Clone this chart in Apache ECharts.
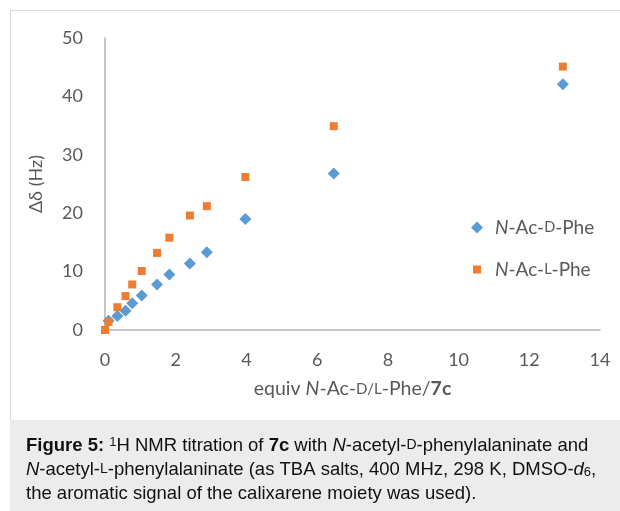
<!DOCTYPE html>
<html>
<head>
<meta charset="utf-8">
<script src="https://cdn.jsdelivr.net/npm/echarts@6/dist/echarts.min.js"></script>
<style>
  html, body { margin: 0; padding: 0; background: #fff; }
  #chart { width: 620px; height: 511px; }
</style>
</head>
<body>
<div id="chart"></div>
<script>
// equivalents of guest added, shared by both titrations
var equiv = [0, 0.1, 0.35, 0.58, 0.77, 1.04, 1.47, 1.82, 2.4, 2.88, 3.97, 6.47, 12.95];
// delta delta (Hz) for each guest
var dPhe = [-0.3, 1.6, 2.4, 3.3, 4.6, 5.9, 7.8, 9.5, 11.4, 13.3, 19.0, 26.8, 42.1];
var lPhe = [0, 1.4, 3.9, 5.8, 7.8, 10.1, 13.2, 15.8, 19.6, 21.2, 26.2, 34.9, 45.1];
var seriesNames = ['N-Ac-D-Phe', 'N-Ac-L-Phe'];

var font = 'Lato';
var grey = '#595959';

function pairs(xs, ys) {
  var out = [];
  for (var i = 0; i < xs.length; i++) out.push([xs[i], ys[i]]);
  return out;
}

// rich styles: italic N, small caps D / L, bold 7c
var richChart = {
  t: { fontFamily: font, fontSize: 19, color: grey },
  i: { fontFamily: font, fontSize: 19, color: grey, fontStyle: 'italic' },
  sc: { fontFamily: font, fontSize: 14.5, color: grey },
  b: { fontFamily: font, fontSize: 19, color: grey, fontWeight: 'bold' }
};
var richTitle = {
  t: { fontFamily: font, fontSize: 19.5, color: grey },
  i: { fontFamily: font, fontSize: 19.5, color: grey, fontStyle: 'italic' },
  sc: { fontFamily: font, fontSize: 15, color: grey },
  b: { fontFamily: font, fontSize: 19.5, color: grey, fontWeight: 'bold' }
};

var capFont = 'Liberation Sans';
var capSize = 18.5;
var richCap = {
  b: { fontFamily: capFont, fontSize: capSize, fontWeight: 'bold', color: '#111' },
  i: { fontFamily: capFont, fontSize: capSize, fontStyle: 'italic', color: '#111' },
  sc: { fontFamily: capFont, fontSize: 14, color: '#111' },
  sup: { fontFamily: capFont, fontSize: 13, color: '#111', verticalAlign: 'top' },
  sub: { fontFamily: capFont, fontSize: 13, color: '#111', verticalAlign: 'bottom', padding: [5, 0, 0, 0] }
};

function capLine(y, txt) {
  return {
    type: 'text', left: 26, top: y, z: 10,
    style: {
      text: txt, rich: richCap, fill: '#111',
      font: capSize + 'px "Liberation Sans"'
    }
  };
}

var chart = echarts.init(document.getElementById('chart'));
chart.setOption({
  animation: false,
  grid: { left: 105, right: 20, top: 38, bottom: 181, containLabel: false },
  legend: {
    orient: 'vertical', left: 466, top: 213, itemGap: 23,
    itemWidth: 12, itemHeight: 12,
    data: [
      { name: seriesNames[0] },
      // square drawn smaller inside the 12px box
      { name: seriesNames[1], icon: 'path://M0,0M12,12M2,2L10,2L10,10L2,10Z' }
    ],
    formatter: function (n) {
      var c = n.indexOf('-D-') >= 0 ? 'D' : 'L';
      return '{i|N}{t|-Ac-}{sc|' + c + '}{t|-Phe}';
    },
    textStyle: { rich: richChart, padding: [0, 0, 0, 7] }
  },
  xAxis: {
    type: 'value', min: 0, max: 14, interval: 2,
    name: '{t|equiv }{i|N}{t|-Ac-}{sc|D/L}{t|-Phe/}{b|7c}',
    nameLocation: 'middle', nameGap: 49,
    nameTextStyle: { rich: richTitle },
    axisLine: { lineStyle: { color: '#b3b3b3', width: 1.5 } },
    axisTick: { show: false },
    splitLine: { show: false },
    axisLabel: { fontFamily: font, fontSize: 18, color: grey, margin: 21 }
  },
  yAxis: {
    type: 'value', min: 0, max: 50, interval: 10,
    name: 'Δδ (Hz)', nameLocation: 'middle', nameGap: 60, nameRotate: 90,
    nameTextStyle: { fontFamily: font, fontSize: 18, color: grey },
    axisLine: { show: true, lineStyle: { color: '#b3b3b3', width: 1.5 } },
    axisTick: { show: false },
    splitLine: { show: false },
    axisLabel: { fontFamily: font, fontSize: 18, color: grey, margin: 22 }
  },
  series: [
    {
      name: seriesNames[0], type: 'scatter', symbol: 'diamond', symbolSize: 12,
      itemStyle: { color: '#5B9BD5', opacity: 1 },
      data: pairs(equiv, dPhe)
    },
    {
      name: seriesNames[1], type: 'scatter', symbol: 'rect', symbolSize: 8,
      itemStyle: { color: '#ED7D31', opacity: 1 },
      data: pairs(equiv, lPhe)
    }
  ],
  graphic: [
    {
      type: 'rect', left: 10, top: 10, z: -10, silent: true,
      shape: { width: 620, height: 520 },
      style: { fill: '#fff', stroke: '#d9d9d9', lineWidth: 1 }
    },
    {
      type: 'rect', left: 10, top: 420, z: -5, silent: true,
      shape: { width: 620, height: 100 },
      style: { fill: '#ececec' }
    },
    capLine(436, '{b|Figure 5:} {sup|1}H NMR titration of {b|7c} with {i|N}-acetyl-{sc|D}-phenylalaninate and'),
    capLine(460, '{i|N}-acetyl-{sc|L}-phenylalaninate (as TBA salts, 400 MHz, 298 K, DMSO-{i|d}{sub|6},'),
    capLine(484, 'the aromatic signal of the calixarene moiety was used).')
  ]
});
</script>
</body>
</html>
